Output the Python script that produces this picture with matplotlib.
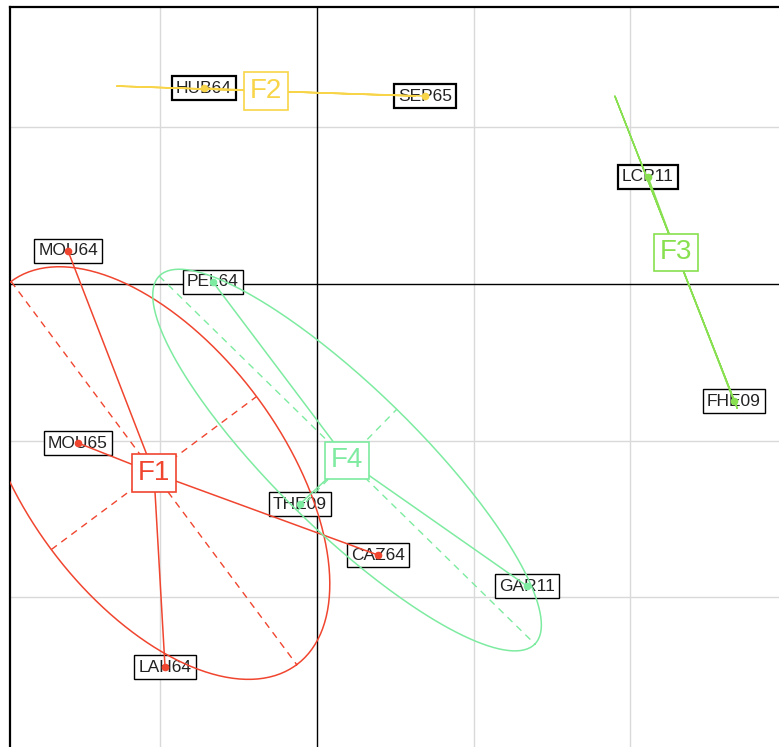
import numpy as np
import matplotlib
matplotlib.use('Agg')
import matplotlib.pyplot as plt

# ── Data (coordinates) ────────────────────────────────────────────────────
labels   = ['MOU64', 'MOU65', 'LAH64', 'CAZ64', 'HUB64', 'SEP65',
            'LCP11', 'FHE09', 'PEL64', 'THE09', 'GAR11']
x_coord  = [-1.591, -1.527, -0.971, 0.390, -0.722, 0.690,
            2.115, 2.664, -0.665, -0.109, 1.342]
y_coord  = [0.211, -1.016, -2.448, -1.732, 1.252, 1.201,
            0.684, -0.748, 0.013, -1.406, -1.930]
group    = ['F1', 'F1', 'F1', 'F1', 'F2', 'F2',
            'F3', 'F3', 'F4', 'F4', 'F4']
n_dup    = [1, 1, 1, 1, 2, 2, 2, 1, 1, 1, 1]   # overlapping duplicate labels

classes  = ['F1', 'F2', 'F3', 'F4']
cls_x    = [-1.042, -0.326, 2.294, 0.192]
cls_y    = [-1.208, 1.233, 0.204, -1.125]
ell_a    = [1.527, 0.953, 1.070, 1.680]          # semi-major
ell_b    = [0.818, 0.0, 0.0, 0.454]              # semi-minor
ell_ang  = [-53.3, -1.9, -68.6, -44.4]           # degrees
cls_col  = ['#F0452F', '#F8D548', '#88E050', '#7DEBA0']

# ── Figure / axes (frame runs past the right and bottom edges) ───────────
W, H = 779, 747
UNIT = 156.5          # pixels per grid unit
X0, Y0 = 317, 284     # pixel position of origin

fig = plt.figure(figsize=(W / 100, H / 100), dpi=100)
xmin, xmax = (10 - X0) / UNIT, 3.0
ymax, ymin = (Y0 - 7) / UNIT, -3.0
left = 10 / W
width = (xmax - xmin) * UNIT / W
height = (ymax - ymin) * UNIT / H
bottom = (H - 7 - (ymax - ymin) * UNIT) / H
ax = fig.add_axes([left, bottom, width, height])
ax.set_xlim(xmin, xmax)
ax.set_ylim(ymin, ymax)
ax.set_xticks([])
ax.set_yticks([])
for sp in ax.spines.values():
    sp.set_linewidth(1.6)
    sp.set_color('black')

# grid
for g in [-1, 1, 2]:
    ax.axvline(g, color='#D9D9D9', lw=1.0, zorder=0)
for g in [1, -1, -2]:
    ax.axhline(g, color='#D9D9D9', lw=1.0, zorder=0)
ax.axvline(0, color='black', lw=1.0, zorder=1)
ax.axhline(0, color='black', lw=1.0, zorder=1)

# ── Point labels (drawn under the class graphics) ────────────────────────
# duplicated rows give a doubled box edge in the original -> thicker edge
for lab, x, y, nd in zip(labels, x_coord, y_coord, n_dup):
    ax.text(x, y, lab, ha='center', va='center', fontsize=12.5,
            family='Liberation Sans', color='#222222', zorder=2,
            bbox=dict(boxstyle='square,pad=0.25', fc='white',
                      ec='black', lw=1.0 if nd == 1 else 1.6))

# ── Ellipses, stars and class labels ─────────────────────────────────────
t = np.linspace(0, 2 * np.pi, 300)
for i, c in enumerate(classes):
    col = cls_col[i]
    cx, cy = cls_x[i], cls_y[i]
    th = np.deg2rad(ell_ang[i])
    ux, uy = np.cos(th), np.sin(th)
    vx, vy = -np.sin(th), np.cos(th)
    a, b = ell_a[i], ell_b[i]

    ex = cx + a * np.cos(t) * ux + b * np.sin(t) * vx
    ey = cy + a * np.cos(t) * uy + b * np.sin(t) * vy
    ax.plot(ex, ey, color=col, lw=1.1, zorder=3)

    # ellipse axes (dashed)
    ax.plot([cx - a * ux, cx + a * ux], [cy - a * uy, cy + a * uy],
            color=col, lw=1.0, ls=(0, (5, 4)), zorder=3)
    if b > 0:
        ax.plot([cx - b * vx, cx + b * vx], [cy - b * vy, cy + b * vy],
                color=col, lw=1.0, ls=(0, (5, 4)), zorder=3)

    # star from centre to each member
    for x, y, g in zip(x_coord, y_coord, group):
        if g == c:
            ax.plot([cx, x], [cy, y], color=col, lw=1.1, zorder=3)
            ax.plot(x, y, 'o', color=col, ms=4.5, mec=col, zorder=4)

    ax.text(cx, cy, c, ha='center', va='center', fontsize=20,
            family='Liberation Sans', color=col, zorder=5,
            bbox=dict(boxstyle='square,pad=0.2', fc='white', ec=col, lw=1.2))

fig.savefig('out.png', dpi=100)
